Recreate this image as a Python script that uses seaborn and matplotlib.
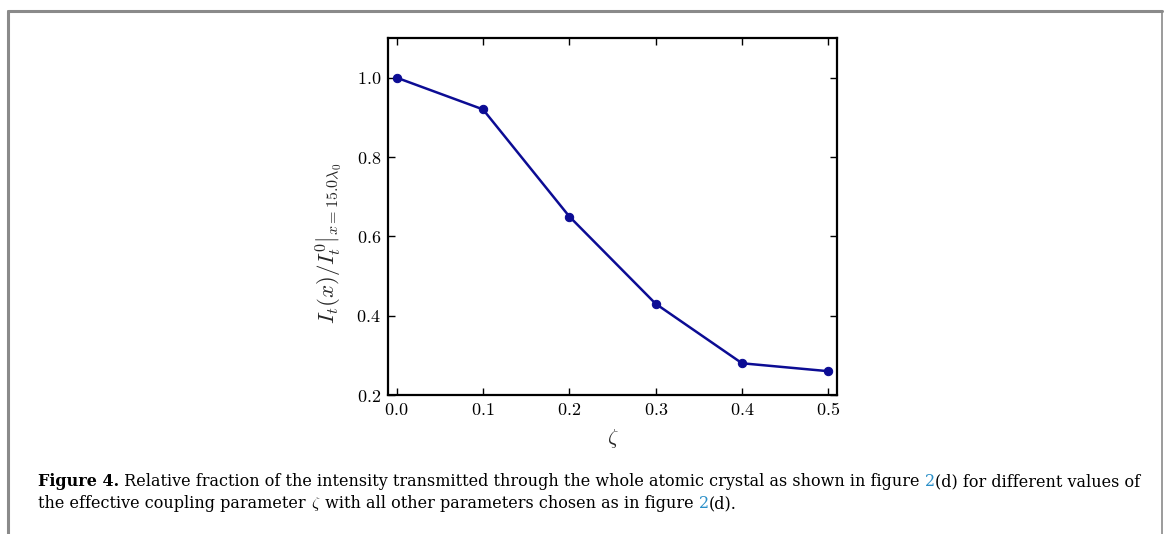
import numpy as np
import pandas as pd
import matplotlib
matplotlib.use("Agg")
import matplotlib.pyplot as plt
from matplotlib.ticker import FuncFormatter
import seaborn as sns

# data
zeta = [0.0, 0.1, 0.2, 0.3, 0.4, 0.5]
rel_intensity = [1.0, 0.92, 0.65, 0.43, 0.28, 0.26]
x_ticks = [0.0, 0.1, 0.2, 0.3, 0.4, 0.5]
y_ticks = [0.2, 0.4, 0.6, 0.8, 1.0]

sns.set_theme(style="ticks")
plt.rcParams["font.family"] = ["Liberation Serif", "DejaVu Serif"]
plt.rcParams["mathtext.fontset"] = "cm"

df = pd.DataFrame({"zeta": zeta, "I": rel_intensity})

fig = plt.figure(figsize=(11.65, 5.34), dpi=100)
ax = fig.add_axes([388 / 1165, 1 - 395 / 534, (837 - 388) / 1165, (395 - 38) / 534])

line_col = "#0c0c94"
sns.lineplot(data=df, x="zeta", y="I", ax=ax, color=line_col, marker="o",
             markersize=6, markeredgecolor=line_col, linewidth=1.8)

ax.set_xlim(-0.01, 0.51)
ax.set_ylim(0.2, 1.1)
ax.set_xticks(x_ticks)
ax.set_yticks(y_ticks)
fmt = FuncFormatter(lambda v, p: "$%.1f$" % v)
ax.xaxis.set_major_formatter(fmt)
ax.yaxis.set_major_formatter(fmt)
ax.tick_params(direction="in", length=5, width=1, top=True, right=True,
               labelsize=13, colors="black", pad=5)
for s in ax.spines.values():
    s.set_linewidth(1.6)
    s.set_color("black")

ax.set_xlabel(r"$\zeta$", fontsize=15, labelpad=6)
ax.set_ylabel(r"$I_t(x)/I_t^0|_{x=15.0\lambda_0}$", fontsize=16.5)
# label sits a bit below the axes centre in the original
ax.yaxis.set_label_coords((344 - 388) / 449, (395 - 243) / 357)

# page frame around the figure
frame_col = "#8a8a8a"
fig.add_artist(plt.Line2D([8 / 1165, 8 / 1165], [0, 1 - 11 / 534], color=frame_col, lw=2.2))
fig.add_artist(plt.Line2D([8 / 1165, 1162 / 1165], [1 - 11 / 534, 1 - 11 / 534], color=frame_col, lw=2.2))
fig.add_artist(plt.Line2D([1162 / 1165, 1162 / 1165], [0, 1 - 11 / 534], color=frame_col, lw=1.2))

# caption with mixed styles, pieces placed one after the other
cap_size = 11.5
renderer = fig.canvas.get_renderer()


def put_pieces(pieces, x0, y0):
    x = x0
    for txt, weight, col in pieces:
        t = fig.text(x, y0, txt, fontsize=cap_size, fontweight=weight, color=col,
                     family="DejaVu Serif", ha="left", va="baseline")
        bb = t.get_window_extent(renderer=renderer)
        x += bb.width / fig.bbox.width


link = "#2a8fc8"
line1 = [("Figure 4.", "bold", "black"),
         (" Relative fraction of the intensity transmitted through the whole atomic crystal as shown in figure ", "normal", "black"),
         ("2", "normal", link),
         ("(d) for different values of", "normal", "black")]
line2 = [("the effective coupling parameter ", "normal", "black"),
         (r"$\zeta$", "normal", "black"),
         (" with all other parameters chosen as in figure ", "normal", "black"),
         ("2", "normal", link),
         ("(d).", "normal", "black")]
put_pieces(line1, 38 / 1165, 1 - 486 / 534)
put_pieces(line2, 38 / 1165, 1 - 508 / 534)

fig.savefig("out.png", dpi=100)
